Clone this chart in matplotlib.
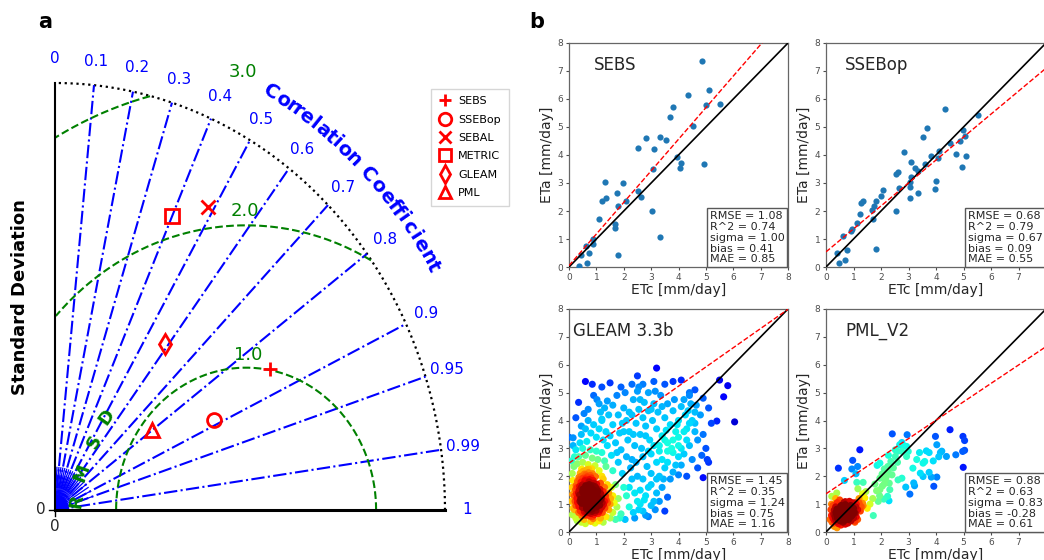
import numpy as np
import matplotlib
matplotlib.use('Agg')
import matplotlib.pyplot as plt
from matplotlib.lines import Line2D
from matplotlib.colors import PowerNorm

# ---------------- Taylor diagram (panel a) ----------------
model_names = ['SEBS', 'SSEBop', 'SEBAL', 'METRIC', 'GLEAM', 'PML']
model_std = [1.93, 1.38, 2.43, 2.25, 1.44, 0.93]
model_corr = [0.858, 0.888, 0.484, 0.399, 0.589, 0.799]
model_markers = ['+', 'o', 'x', 's', 'd', '^']
ref_std = 1.47
std_max = 3.0
corr_ticks = [0.0, 0.1, 0.2, 0.3, 0.4, 0.5, 0.6, 0.7, 0.8, 0.9, 0.95, 0.99, 1.0]
corr_labels = ['0', '0.1', '0.2', '0.3', '0.4', '0.5', '0.6', '0.7', '0.8', '0.9', '0.95', '0.99', '1']
rmsd_levels = [1.0, 2.0, 3.0]

# ---------------- scatter panels (panel b) ----------------
sebs_etc = [4.86, 4.35, 5.10, 4.99, 5.53, 3.80, 3.70, 4.52, 2.83, 3.34, 3.54, 2.52, 3.09, 3.96,
            4.09, 4.04, 4.92, 3.07, 1.33, 1.97, 1.34, 1.19, 1.77, 2.52, 2.62, 2.10, 1.79, 3.02,
            1.11, 1.67, 1.69, 3.34, 0.88, 0.89, 0.63, 0.73, 0.43, 1.80, 0.67, 0.37]
sebs_eta = [7.34, 6.15, 6.32, 5.77, 5.81, 5.70, 5.35, 5.04, 4.62, 4.66, 4.54, 4.25, 4.23, 3.92,
            3.71, 3.53, 3.67, 3.51, 3.03, 3.01, 2.45, 2.34, 2.63, 2.71, 2.51, 2.35, 2.19, 2.01,
            1.70, 1.55, 1.40, 1.06, 1.00, 0.81, 0.75, 0.50, 0.42, 0.42, 0.14, 0.02]

ssebop_etc = [4.33, 5.53, 3.69, 3.54, 4.97, 5.07, 4.52, 4.86, 2.82, 4.12, 3.81, 4.09, 4.74, 5.09,
              4.93, 3.08, 3.59, 3.25, 3.33, 2.54, 2.62, 3.08, 3.06, 3.06, 2.65, 4.01, 3.98, 3.35,
              3.04, 2.54, 2.01, 2.09, 1.35, 1.28, 1.25, 1.11, 0.92, 0.96, 0.63, 1.69, 1.74, 1.81,
              1.72, 1.81, 0.39, 0.46, 0.70, 0.77]
ssebop_eta = [5.65, 5.43, 4.96, 4.63, 4.90, 4.68, 4.44, 4.49, 4.12, 4.14, 3.96, 3.90, 4.05, 3.98,
              3.57, 3.76, 3.69, 3.55, 3.44, 3.32, 3.38, 3.22, 3.02, 2.87, 2.81, 3.08, 2.79, 2.66,
              2.45, 1.99, 2.54, 2.75, 2.36, 2.30, 1.91, 1.58, 1.27, 1.34, 1.11, 2.03, 2.18, 2.35,
              1.72, 0.64, 0.50, 0.14, 0.26, 0.60]

gleam_pts = [
    # dense core
    (0.47, 0.58), (0.61, 0.63), (0.76, 0.57), (0.92, 0.62), (1.07, 0.66), (1.22, 0.70),
    (0.41, 0.76), (0.56, 0.73), (0.69, 0.79), (0.84, 0.74), (0.99, 0.78), (1.13, 0.81), (1.31, 0.86),
    (0.36, 0.92), (0.49, 0.88), (0.63, 0.93), (0.74, 0.87), (0.87, 0.92), (1.01, 0.90), (1.12, 0.96),
    (1.26, 0.99), (1.41, 1.04), (0.31, 1.06), (0.46, 1.03), (0.57, 1.08), (0.71, 1.02), (0.83, 1.07),
    (0.96, 1.04), (1.09, 1.10), (1.21, 1.06), (1.36, 1.15), (1.52, 1.20), (0.29, 1.21), (0.43, 1.18),
    (0.54, 1.23), (0.67, 1.19), (0.81, 1.24), (0.93, 1.20), (1.04, 1.26), (1.19, 1.22), (1.33, 1.30),
    (0.27, 1.37), (0.39, 1.33), (0.53, 1.38), (0.64, 1.34), (0.77, 1.39), (0.91, 1.35), (1.03, 1.41),
    (1.16, 1.37), (0.24, 1.52), (0.37, 1.49), (0.51, 1.54), (0.63, 1.50), (0.76, 1.55), (0.89, 1.51),
    (0.99, 1.57), (1.13, 1.53), (0.26, 1.67), (0.39, 1.64), (0.49, 1.69), (0.61, 1.66), (0.74, 1.70),
    (0.87, 1.66), (1.01, 1.72), (0.31, 1.82), (0.44, 1.79), (0.58, 1.84), (0.73, 1.80), (0.88, 1.85),
    (0.36, 1.96), (0.51, 1.93), (0.66, 1.98), (0.81, 1.94), (0.97, 1.99), (0.41, 2.11), (0.56, 2.08),
    (0.71, 2.13), (0.86, 2.09), (0.46, 2.26), (0.64, 2.23), (0.83, 2.27),
    (0.70, 0.96), (0.80, 1.00), (0.86, 0.84), (0.76, 1.12), (0.90, 1.12), (0.64, 0.84), (0.95, 0.96),
    (0.79, 0.81), (0.69, 1.22), (0.60, 1.00), (0.88, 1.30), (0.58, 1.30), (1.00, 1.00), (0.72, 0.70),
    (0.20, 0.80), (0.35, 0.70), (0.50, 0.68), (0.65, 0.72), (0.80, 0.66), (0.95, 0.70), (1.10, 0.74),
    (0.40, 1.10), (0.55, 1.15), (0.75, 1.05), (0.85, 1.15), (1.00, 1.15), (1.15, 1.15), (0.35, 1.40),
    (0.50, 1.45), (0.70, 1.45), (0.85, 1.42), (1.05, 1.48), (0.30, 1.60), (0.45, 1.60), (0.68, 1.60),
    (0.80, 1.62), (0.95, 1.63), (0.38, 1.88), (0.60, 1.90), (0.75, 1.88), (0.90, 1.75), (0.45, 2.00),
    (0.62, 2.05), (0.78, 2.03), (0.52, 2.18), (0.72, 2.25), (0.20, 1.30), (0.22, 1.10), (0.25, 0.95),
    (0.60, 0.60), (0.85, 0.55), (1.20, 0.90), (1.30, 1.10), (1.25, 1.45),
    # ring around the core
    (0.12, 0.62), (0.15, 0.85), (0.10, 1.10), (0.13, 1.35), (0.11, 1.60), (0.14, 1.85), (0.12, 2.10),
    (0.18, 2.35), (0.09, 2.55), (0.20, 2.70), (0.30, 2.45), (0.50, 2.50), (0.70, 2.42), (0.95, 2.38),
    (1.10, 2.20), (1.20, 2.00), (0.35, 2.70), (0.60, 2.75), (0.85, 2.65), (1.05, 2.60), (0.25, 2.95),
    (0.50, 3.00), (0.78, 2.95), (1.00, 2.90), (1.30, 2.55), (0.40, 3.20), (0.65, 3.25), (0.15, 3.10),
    (1.20, 2.85), (1.15, 1.75), (1.30, 1.60), (1.25, 1.90), (1.45, 1.40), (1.60, 1.30), (1.50, 1.00),
    (1.65, 1.05), (1.45, 0.80), (1.60, 0.70), (1.75, 0.90), (1.80, 1.20), (1.40, 1.70), (1.55, 1.60),
    (1.35, 0.55), (1.50, 0.50), (0.30, 0.40), (0.45, 0.35), (0.60, 0.30), (0.80, 0.38), (0.95, 0.32),
    (1.10, 0.40), (1.25, 0.35), (1.70, 0.45), (1.85, 0.50), (0.25, 0.50), (0.55, 0.45), (0.88, 0.48),
    (1.15, 0.50),
    # upper cloud
    (0.45, 3.50), (0.60, 3.70), (0.80, 3.55), (1.00, 3.40), (0.90, 3.85), (0.70, 4.00), (0.55, 4.25),
    (1.10, 3.70), (1.25, 3.30), (1.40, 3.10), (1.35, 3.60), (1.50, 3.45), (1.60, 3.85), (1.70, 3.20),
    (1.85, 3.55), (1.95, 3.90), (1.80, 4.20), (1.60, 4.55), (2.00, 4.45), (2.10, 4.00), (2.20, 3.60),
    (2.30, 4.20), (2.35, 4.75), (2.45, 3.90), (2.55, 4.40), (2.60, 3.50), (2.70, 4.10), (2.75, 4.65),
    (2.80, 3.80), (2.90, 4.35), (2.95, 3.30), (3.05, 4.00), (3.10, 4.60), (3.20, 3.70), (3.25, 4.30),
    (3.35, 4.90), (3.40, 3.45), (3.50, 4.10), (3.60, 4.60), (3.70, 3.85), (3.80, 4.35), (3.90, 3.60),
    (4.00, 4.00), (4.10, 4.50), (4.25, 4.20), (4.30, 3.70), (4.45, 4.60), (4.40, 4.90), (2.05, 5.00),
    (2.50, 5.05), (2.90, 5.00), (1.75, 4.90), (1.45, 4.20), (1.20, 4.00), (1.30, 4.45), (2.15, 3.30),
    (2.40, 3.10), (2.65, 3.00), (3.00, 2.80), (1.90, 2.95), (2.10, 2.70), (3.30, 3.10), (3.60, 3.20),
    (3.75, 3.00), (2.45, 2.50), (1.80, 2.50), (1.60, 2.20), (1.95, 2.10), (2.25, 2.30), (2.85, 2.35),
    (2.00, 1.60), (2.10, 1.30), (2.20, 0.90), (2.35, 0.70), (2.50, 1.10), (1.90, 0.65), (2.05, 0.45),
    (1.70, 1.70), (2.30, 1.90), (2.60, 1.50), (2.00, 3.60), (2.20, 4.30), (2.60, 4.75), (3.00, 4.40),
    (3.40, 4.50), (3.85, 4.75), (4.20, 4.75), (3.15, 5.05), (4.00, 3.40), (4.60, 4.30), (4.50, 4.00),
    (2.80, 3.45), (3.55, 3.65), (2.35, 3.50), (1.55, 2.75), (1.35, 2.35), (1.75, 2.85),
    # below the 1:1 line
    (2.20, 1.60), (2.40, 1.40), (2.60, 1.00), (2.80, 1.30), (3.00, 1.70), (3.20, 1.90), (3.40, 2.60),
    (3.60, 2.50), (3.80, 3.30), (4.00, 2.70), (4.20, 3.60), (4.40, 3.10), (4.60, 3.90), (4.80, 4.20),
    (4.70, 3.30), (3.10, 3.10), (3.30, 2.90), (2.50, 2.00), (2.70, 2.70), (2.90, 2.90), (3.50, 3.30),
    (3.90, 2.40), (4.10, 3.00), (4.40, 3.90), (2.30, 2.60), (3.70, 1.90), (3.10, 1.10), (2.40, 0.50),
    (2.75, 1.15), (2.55, 0.80), (3.45, 1.90), (3.95, 3.85), (4.65, 4.55), (4.35, 4.35),
    # outliers
    (0.60, 5.40), (0.35, 4.65), (0.00, 3.40), (0.15, 3.38), (0.45, 3.80), (0.70, 4.40), (0.90, 4.90),
    (1.02, 4.75), (1.10, 4.60), (1.20, 4.05), (1.15, 4.30), (1.20, 5.20), (1.50, 5.35), (1.90, 5.20),
    (1.40, 4.70), (2.30, 5.30), (2.50, 5.60), (2.70, 5.30), (3.10, 5.40), (3.20, 5.88), (3.50, 5.30),
    (3.80, 5.40), (4.10, 5.45), (4.40, 5.00), (4.60, 5.10), (4.90, 4.80), (5.10, 4.45), (5.50, 5.45),
    (5.80, 5.25), (5.65, 4.85), (5.40, 3.98), (5.20, 3.90), (6.05, 3.95), (4.90, 3.50), (4.60, 3.60),
    (4.30, 3.30), (5.00, 3.00), (4.85, 2.75), (5.05, 2.60), (5.10, 2.50), (4.50, 2.60), (4.20, 2.80),
    (4.00, 3.10), (3.80, 2.85), (4.10, 2.40), (3.60, 2.90), (3.50, 2.30), (3.30, 2.00), (3.00, 2.10),
    (2.70, 1.90), (2.90, 1.60), (3.20, 1.40), (3.30, 1.10), (3.00, 0.95), (2.70, 0.75), (2.90, 0.55),
    (3.50, 0.75), (3.40, 1.60), (4.90, 1.95), (4.70, 2.30), (3.80, 2.15), (4.00, 2.05), (3.20, 2.50),
    (2.80, 0.60), (3.15, 0.80), (0.85, 5.30), (0.25, 4.10), (2.55, 5.20), (4.30, 2.00), (3.60, 1.25),
]

pml_pts = [
    # dense core
    (0.22, 0.35), (0.30, 0.42), (0.38, 0.38), (0.45, 0.45), (0.52, 0.40), (0.60, 0.48), (0.68, 0.42),
    (0.75, 0.50), (0.82, 0.45), (0.90, 0.55), (0.25, 0.50), (0.33, 0.55), (0.40, 0.60), (0.48, 0.52),
    (0.55, 0.58), (0.62, 0.62), (0.70, 0.56), (0.78, 0.62), (0.85, 0.68), (0.95, 0.60), (1.02, 0.70),
    (0.20, 0.60), (0.28, 0.65), (0.36, 0.70), (0.44, 0.68), (0.52, 0.72), (0.60, 0.70), (0.68, 0.76),
    (0.76, 0.72), (0.84, 0.80), (0.92, 0.76), (1.00, 0.85), (1.08, 0.90), (0.30, 0.78), (0.40, 0.82),
    (0.50, 0.85), (0.58, 0.80), (0.66, 0.88), (0.74, 0.84), (0.82, 0.92), (0.90, 0.95), (1.10, 1.00),
    (1.15, 0.80), (0.35, 0.90), (0.55, 0.95), (0.70, 0.98), (0.45, 0.30), (0.62, 0.35), (0.80, 0.32),
    (0.58, 0.50), (0.65, 0.55), (0.72, 0.65), (0.50, 0.62), (0.42, 0.50), (0.35, 0.46), (0.28, 0.32),
    (0.95, 1.05), (1.20, 1.05), (1.00, 0.50), (0.15, 0.45), (0.18, 0.80), (1.05, 0.35), (0.65, 1.05),
    (0.85, 1.10), (1.25, 0.75), (1.30, 0.90), (0.25, 0.95), (0.40, 1.05), (0.55, 0.25), (0.70, 0.28),
    (0.90, 0.40), (1.10, 0.55), (1.05, 1.05), (0.50, 1.15), (0.35, 1.20), (1.20, 1.20), (1.35, 0.95),
    (0.30, 0.20), (1.15, 0.45), (0.20, 1.00),
    # middle
    (1.96, 2.47), (2.12, 2.26), (2.04, 2.08), (1.96, 1.93), (2.16, 1.87), (1.84, 1.48), (1.90, 1.10),
    (2.10, 1.18), (2.24, 1.28), (2.32, 1.52), (1.78, 1.72), (1.33, 1.03), (1.26, 0.92), (1.41, 1.22),
    (2.20, 2.00), (2.05, 1.65), (1.95, 1.30), (2.25, 2.35), (2.30, 1.75), (1.50, 0.85), (1.45, 1.45),
    (1.70, 1.20), (1.60, 1.00), (2.68, 3.13), (2.52, 2.71), (2.27, 2.75), (2.36, 2.53), (2.93, 2.71),
    (2.99, 2.89), (2.26, 2.17), (2.12, 1.73), (2.62, 1.87), (1.96, 1.52), (1.16, 1.55), (1.33, 1.37),
    (1.06, 0.68), (2.45, 2.30), (2.60, 2.50), (2.75, 2.90), (2.40, 2.05), (0.40, 0.15), (1.05, 0.40),
    (3.65, 2.91), (3.75, 2.85), (3.59, 2.53), (3.53, 2.47), (3.40, 2.85), (3.16, 2.29), (3.19, 1.76),
    (2.76, 1.93), (2.93, 3.07), (2.82, 3.09), (2.59, 2.89), (2.52, 2.95), (1.86, 2.39), (1.12, 1.78),
    (1.35, 1.78), (1.09, 2.09), (0.39, 1.40), (0.70, 1.09), (3.30, 2.60), (3.90, 2.55), (4.10, 2.70),
    # outliers
    (0.45, 2.29), (0.67, 1.85), (0.94, 2.26), (0.97, 2.57), (1.15, 2.35), (1.23, 2.95), (2.41, 3.52),
    (2.95, 3.49), (2.76, 3.21), (3.05, 1.36), (2.90, 1.61), (3.22, 1.66), (3.43, 2.11), (3.53, 1.99),
    (3.75, 2.14), (3.83, 1.97), (3.92, 1.64), (4.03, 1.97), (3.98, 3.43), (4.51, 3.67), (4.98, 3.43),
    (5.04, 3.28), (4.97, 2.89), (5.04, 2.93), (4.99, 2.32), (4.72, 2.77), (4.38, 2.71), (4.16, 2.85),
    (4.21, 2.90), (4.03, 3.13), (2.29, 1.12), (1.72, 0.59), (0.21, 1.28),
]

panel_titles = ['SEBS', 'SSEBop', 'GLEAM 3.3b', 'PML_V2']
fit_slope = [1.128, 0.82, 0.69, 0.66]
fit_intercept = [0.05, 0.54, 2.47, 1.37]
rmse = [1.08, 0.68, 1.45, 0.88]
r2 = [0.74, 0.79, 0.35, 0.63]
sigma = [1.00, 0.67, 1.24, 0.83]
bias = [0.41, 0.09, 0.75, -0.28]
mae = [0.85, 0.55, 1.16, 0.61]

W, H = 1044, 560
fig = plt.figure(figsize=(W / 100, H / 100), dpi=100)


def fig_rect(left, top, right, bottom):
    # pixel box -> figure fraction
    return [left / W, 1 - bottom / H, (right - left) / W, (bottom - top) / H]


# ===== panel a: Taylor diagram =====
axT = fig.add_axes(fig_rect(55, 83, 445, 510))
axT.set_xlim(0, std_max)
axT.set_ylim(0, std_max)
axT.axis('off')
sx, sy = 390 / std_max, 427 / std_max   # px per unit

th = np.linspace(0, np.pi / 2, 300)
axT.plot(std_max * np.cos(th), std_max * np.sin(th), color='k', ls=':', lw=1.6, clip_on=False)
axT.plot([0, std_max], [0, 0], color='k', lw=2.2, clip_on=False, zorder=4)
axT.plot([0, 0], [0, std_max], color='k', lw=1.5, clip_on=False, zorder=4)
axT.plot([-0.05, 0], [0, 0], color='k', lw=1, clip_on=False)
axT.plot([0, 0], [-0.04, 0], color='k', lw=1, clip_on=False)
axT.text(-0.07, 0, '0', ha='right', va='center', fontsize=11, color='0.15')
axT.text(0, -0.06, '0', ha='center', va='top', fontsize=11, color='0.15')

for c in corr_ticks[1:-1]:
    a = np.arccos(c)
    axT.plot([0, std_max * np.cos(a)], [0, std_max * np.sin(a)], color='blue', ls='-.',
             lw=1.5, clip_on=False)
# dense fan near the origin
for c in np.arange(0.05, 1.0, 0.05):
    a = np.arccos(c)
    axT.plot([0, 0.3 * np.cos(a)], [0, 0.3 * np.sin(a)], color='blue', lw=0.9, clip_on=False)
ths = np.linspace(0, np.pi / 2, 50)
axT.fill(np.r_[0, 0.11 * np.cos(ths)], np.r_[0, 0.11 * np.sin(ths)], color='blue', lw=0)

for c, lab in zip(corr_ticks, corr_labels):
    a = np.arccos(c)
    axT.text(3.17 * np.cos(a), 3.17 * np.sin(a), lab, color='blue', fontsize=11,
             ha='center', va='center')

# RMSD contours
t = np.linspace(0, np.pi, 600)
for r in rmsd_levels:
    x = ref_std + r * np.cos(t)
    y = r * np.sin(t)
    inside = (x >= 0) & (x ** 2 + y ** 2 <= std_max ** 2)
    axT.plot(np.where(inside, x, np.nan), np.where(inside, y, np.nan), color='green',
             ls='--', lw=1.5, clip_on=False)
axT.text(1.485, 1.09, '1.0', color='green', fontsize=13, ha='center', va='center')
axT.text(1.46, 2.10, '2.0', color='green', fontsize=13, ha='center', va='center')
axT.text(1.446, 3.08, '3.0', color='green', fontsize=13, ha='center', va='center')
for ch, px, py, rot in [('R', 76.7, 501.7, 80), ('M', 81.7, 473, 70),
                        ('S', 94.3, 441.7, 62), ('D', 106.7, 416.7, 55)]:
    axT.text((px - 55) / sx, (510 - py) / sy, ch, color='green', fontsize=13,
             fontweight='bold', rotation=rot, ha='center', va='center', rotation_mode='anchor')

# curved "Correlation Coefficient"
label = 'Correlation Coefficient'
widths = np.array([0.55 if ch in 'iltfr' else 0.5 if ch == ' ' else
                   1.15 if ch == 'C' else 1.0 for ch in label])
cum = np.cumsum(widths) - widths / 2
ang = np.radians(61.5 - (cum / widths.sum()) * 31.5)
R = 3.37
for ch, a in zip(label, ang):
    rot = np.degrees(np.arctan2(-sy * np.cos(a), sx * np.sin(a)))
    axT.text(R * np.cos(a), R * np.sin(a), ch, color='blue', fontsize=14, fontweight='bold',
             rotation=rot, rotation_mode='anchor', ha='center', va='center')

handles = []
for name, s, c, m in zip(model_names, model_std, model_corr, model_markers):
    a = np.arccos(c)
    axT.plot(s * np.cos(a), s * np.sin(a), marker=m, color='red', mfc='none', ms=10,
             mew=2, ls='none', clip_on=False, zorder=5)
    handles.append(Line2D([], [], marker=m, color='red', mfc='none', ms=9, mew=2,
                          ls='none', label=name))
fig.legend(handles=handles, loc='upper left', bbox_to_anchor=(425 / W, 1 - 83 / H),
           fontsize=8, labelspacing=0.75, handletextpad=0.6, borderpad=0.7,
           handlelength=1.2, frameon=True, edgecolor='0.8', fancybox=False)

fig.text(20 / W, 1 - 297 / H, 'Standard Deviation', rotation=90, ha='center', va='center',
         fontsize=13, fontweight='bold')
fig.text(45 / W, 1 - 22 / H, 'a', fontsize=15, fontweight='bold', ha='center', va='center')
fig.text(537 / W, 1 - 22 / H, 'b', fontsize=15, fontweight='bold', ha='center', va='center')


# ===== panel b: scatter plots =====
def kde_color(pts, bw=0.45):
    x = np.array([p[0] for p in pts])
    y = np.array([p[1] for p in pts])
    d = np.exp(-((x[:, None] - x[None, :]) ** 2 + (y[:, None] - y[None, :]) ** 2)
               / (2 * bw ** 2)).sum(1)
    order = np.argsort(d)
    return x[order], y[order], d[order] / d.max()


rects = [fig_rect(569, 43, 788, 267), fig_rect(826, 43, 1046, 267),
         fig_rect(569, 309, 788, 532), fig_rect(826, 309, 1046, 532)]
title_x = [0.115, 0.086, 0.02, 0.086]

for i, rect in enumerate(rects):
    ax = fig.add_axes(rect)
    if i == 0:
        ax.scatter(sebs_etc, sebs_eta, s=20, color='#1f77b4', lw=0, zorder=3)
    elif i == 1:
        ax.scatter(ssebop_etc, ssebop_eta, s=20, color='#1f77b4', lw=0, zorder=3)
    else:
        gx, gy, gd = kde_color(gleam_pts if i == 2 else pml_pts)
        ax.scatter(gx, gy, c=gd, cmap='jet', norm=PowerNorm(0.7, 0, 0.85, clip=True),
                   s=26, lw=0, zorder=3)
    ax.plot([0, 8], [0, 8], color='k', lw=1.2, zorder=4)
    xx = np.array([0, 8])
    ax.plot(xx, fit_intercept[i] + fit_slope[i] * xx, color='red', ls='--', lw=1, zorder=4)
    ax.set_xlim(0, 8)
    ax.set_ylim(0, 8)
    ax.set_xticks(range(9))
    ax.set_yticks(range(9))
    if i in (1, 3):
        # the right column runs off the page edge, its last x label is not shown
        ax.set_xticklabels([str(k) for k in range(8)] + [''])
    ax.tick_params(labelsize=6.5, length=2.5, pad=1.5, colors='0.3')
    for sp in ax.spines.values():
        sp.set_color('0.4')
        sp.set_linewidth(0.9)
    ax.set_xlabel('ETc [mm/day]', fontsize=10, labelpad=1, color='0.15')
    ax.set_ylabel('ETa [mm/day]', fontsize=10, labelpad=3, color='0.15')
    ax.text(title_x[i], 0.9, panel_titles[i], transform=ax.transAxes, fontsize=12,
            ha='left', va='center', color='0.15')
    stats = (f'RMSE = {rmse[i]:.2f}\nR^2 = {r2[i]:.2f}\nsigma = {sigma[i]:.2f}\n'
             f'bias = {bias[i]:.2f}\nMAE = {mae[i]:.2f}')
    ax.text(0.985, 0.012, stats, transform=ax.transAxes, fontsize=8, ha='right', va='bottom',
            multialignment='left', linespacing=1.1, zorder=6, color='0.15',
            bbox=dict(boxstyle='square,pad=0.25', fc='white', ec='0.35', lw=1))

fig.savefig('out.png', dpi=100)
